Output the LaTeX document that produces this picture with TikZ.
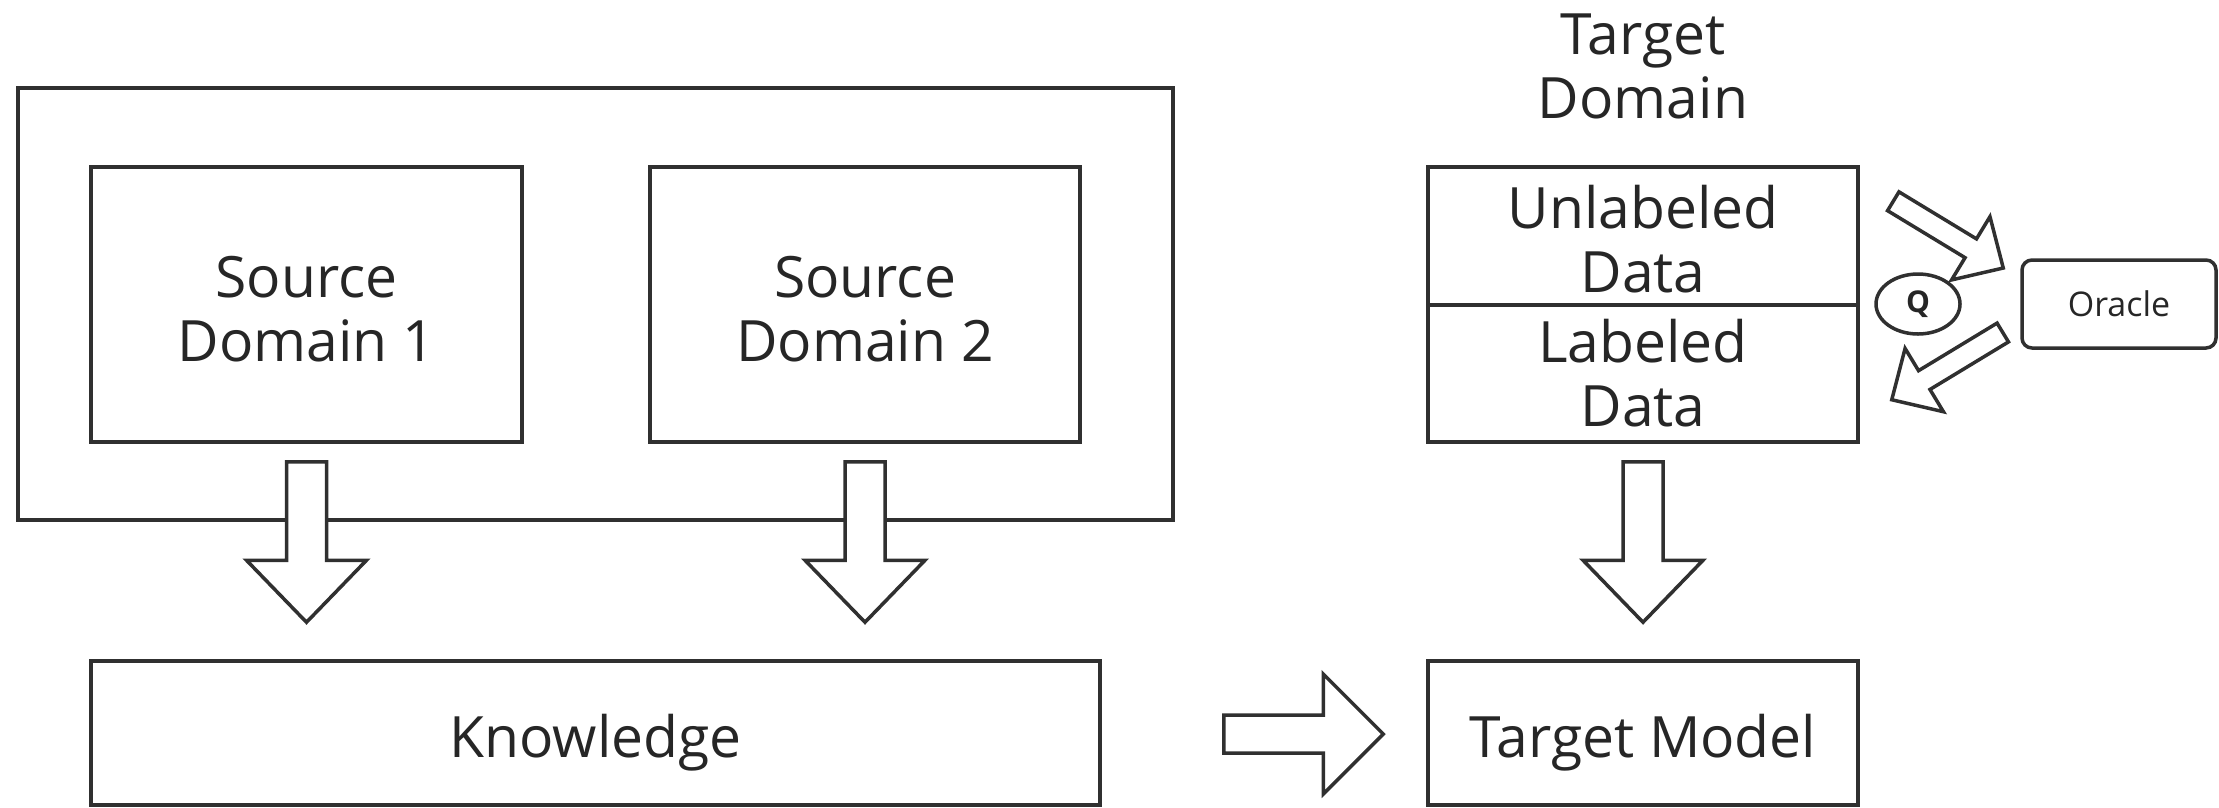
\documentclass[tikz,border=0pt]{standalone}
\usepackage{fontspec}
\setmainfont{Open Sans}
\usetikzlibrary{calc,shapes.geometric}

\definecolor{ink}{HTML}{303030}
\definecolor{txt}{HTML}{262626}

\newcommand\diagfont{\fontsize{57}{64}\selectfont}
\newcommand\oraclefont{\fontsize{34}{40}\selectfont}
\newcommand\qfont{\fontsize{30}{36}\selectfont\bfseries}
% extra room above a first line, to set a two-line label a little lower
\newcommand\lift{\rule{0pt}{50pt}}

\tikzset{
  box/.style={draw=ink, line width=3.5pt, inner sep=0pt, align=center,
              text=txt, font=\diagfont},
  oneline/.style={text height=48pt, text depth=0pt},
  plaintext/.style={inner sep=0pt, align=center, text=txt, font=\diagfont},
  arrowline/.style={draw=ink, fill=white, line width=3.5pt, line join=miter},
}

% Hollow block arrow from #1 to #2:
% #3 shaft half-width, #4 head half-width, #5 head length
\newcommand\blockarrow[5]{%
  \coordinate (ba-base) at ($(#2)!#5!(#1)$);
  \draw[arrowline]
    ($(#1)!#3!90:(#2)$) -- ($(ba-base)!#3!90:(#2)$) --
    ($(ba-base)!#4!90:(#2)$) -- (#2) --
    ($(ba-base)!#4!-90:(#2)$) -- ($(ba-base)!#3!-90:(#2)$) --
    ($(#1)!#3!-90:(#2)$) -- cycle;
}

\begin{document}
\begin{tikzpicture}[x=1pt,y=-1pt]
\useasboundingbox (0,0) rectangle (2219,807);

% source side
\node[box, minimum width=1155pt, minimum height=432pt] (src) at (595.5,304) {};
\node[box, minimum width=431pt, minimum height=275pt] (sd1) at (306.5,304.5) {\lift Source\\Domain 1};
\node[box, minimum width=430pt, minimum height=275pt] (sd2) at (865,304.5) {\lift Source\\Domain 2};
\node[box, oneline, minimum width=1009pt, minimum height=144pt] (know) at (595.5,733) {Knowledge};

% target side
\node[plaintext] (tdom) at (1643,66) {Target\\Domain};
\node[box, minimum width=430pt, minimum height=138pt] (unl) at (1643,236) {\lift Unlabeled\\Data};
\node[box, minimum width=430pt, minimum height=137pt] (lab) at (1643,373.5) {Labeled\\Data};
\node[box, oneline, minimum width=430pt, minimum height=144pt] (model) at (1643,733) {Target Model};

% query loop with the oracle
\node[draw=ink, line width=3.5pt, ellipse, minimum width=84pt, minimum height=60pt,
      inner sep=0pt, text=txt, font=\qfont] (q) at (1918,304) {Q};
\node[draw=ink, line width=3.5pt, rounded corners=10pt, minimum width=194pt,
      minimum height=88pt, inner sep=0pt, text=txt, font=\oraclefont] (oracle) at (2119,304) {Oracle};

% arrow end points
\coordinate (s1a) at ($(sd1.south)+(0,18)$);
\coordinate (s1b) at ($(sd1.south |- know.north)+(0,-37)$);
\coordinate (s2a) at ($(sd2.south)+(0,18)$);
\coordinate (s2b) at ($(sd2.south |- know.north)+(0,-37)$);
\coordinate (ta) at ($(lab.south)+(0,18)$);
\coordinate (tb) at ($(model.north)+(0,-37)$);
\coordinate (ka) at ($(know.east)+(122,1)$);
\coordinate (kb) at ($(model.west)+(-43,1)$);
\coordinate (qa) at ($(unl.north east)+(33.5,36)$);
\coordinate (qb) at ($(oracle.west)+(-17,-36)$);
\coordinate (oa) at ($(oracle.west)+(-17.5,28.5)$);
\coordinate (ob) at ($(lab.south east)+(32,-44)$);

\blockarrow{s1a}{s1b}{20pt}{60pt}{62pt}
\blockarrow{s2a}{s2b}{20pt}{60pt}{62pt}
\blockarrow{ta}{tb}{20pt}{60pt}{62pt}
\blockarrow{ka}{kb}{19pt}{60pt}{60pt}
\blockarrow{qa}{qb}{11pt}{37pt}{38pt}
\blockarrow{oa}{ob}{11pt}{37pt}{38pt}
\end{tikzpicture}
\end{document}
